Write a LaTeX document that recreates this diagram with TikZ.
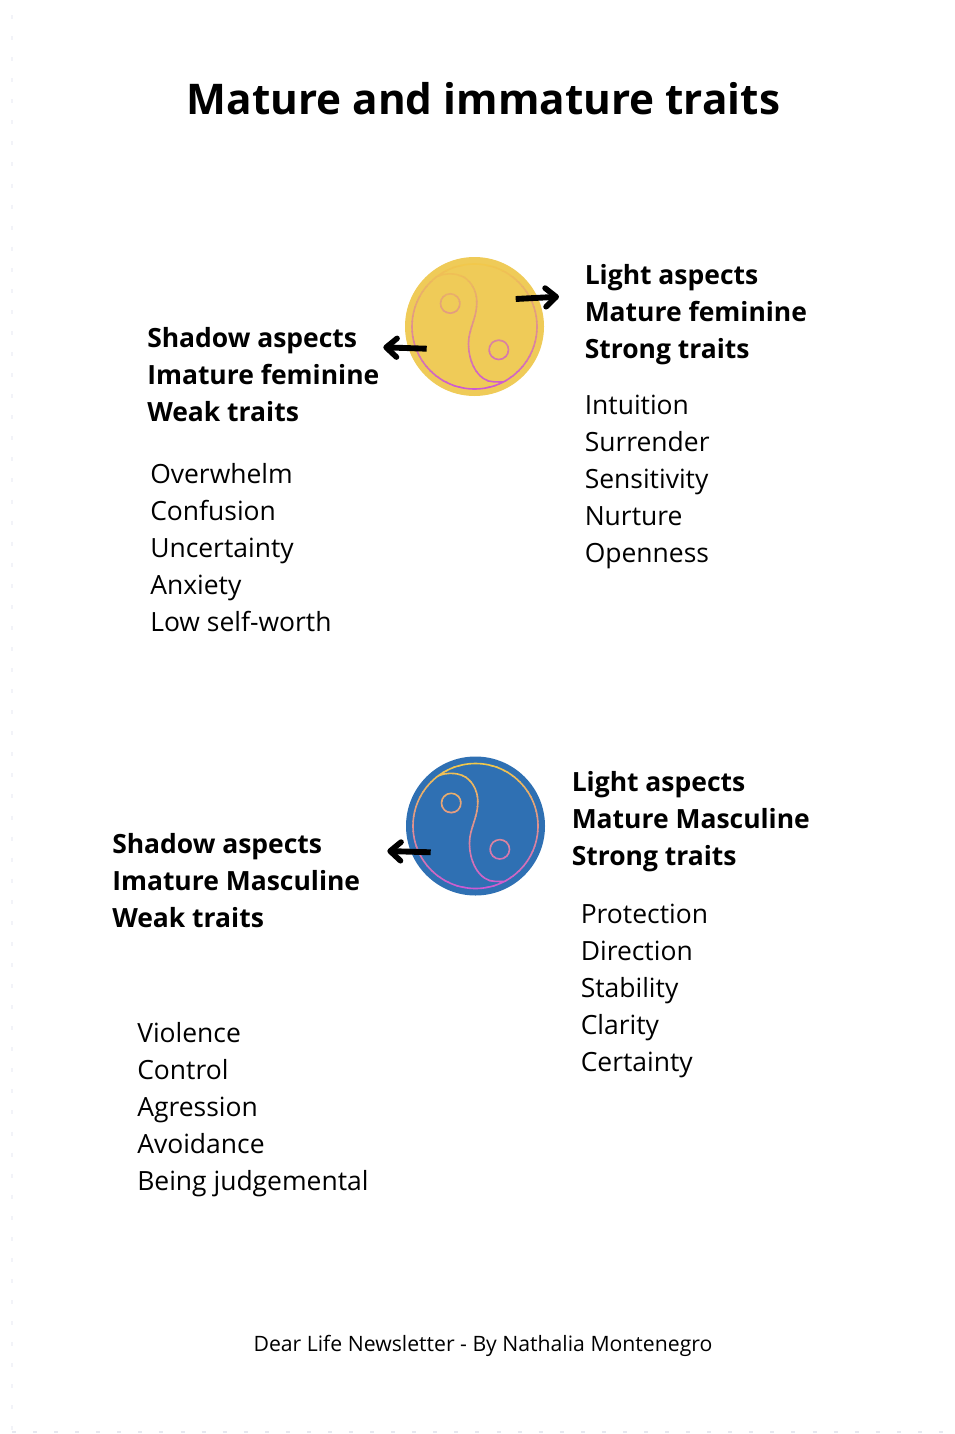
\documentclass[tikz,border=0pt]{standalone}
\usepackage{fontspec}
\setmainfont{Open Sans}
\usetikzlibrary{arrows.meta}

\definecolor{sun}{HTML}{EFCB58}
\definecolor{ocean}{HTML}{2F70B3}
\definecolor{ringtop}{HTML}{F2C84B}
\definecolor{ringlow}{HTML}{CC5AD2}
\definecolor{pagemark}{HTML}{E6E8F0}

\tikzset{
  heading/.style={anchor=north west, inner sep=0pt, align=left, font=\fontsize{19.85}{27.75}\selectfont\bfseries},
  traits/.style={anchor=north west, inner sep=0pt, align=left, font=\fontsize{19.85}{27.75}\selectfont},
  disc/.style={circle, minimum size=104.25pt, inner sep=0pt},
  pointer/.style={line width=4.4pt, -{Straight Barb[length=8pt,width=14pt,line width=4.2pt,round]}},
  margin/.style={draw=pagemark, line width=1.6pt, dash pattern=on 3pt off 12.8pt}
}

% yin yang lines, cut in strips to get the colour change
\newcommand{\yinyang}{
  \foreach \i in {0,...,25}{
    \pgfmathsetmacro{\mixval}{\i*4}
    \begin{scope}
      \clip (-70,-65+\i*5) rectangle (70,-59.7+\i*5);
      \draw[color=ringlow!\mixval!ringtop, line width=1.2pt]
        (0,0) circle (62.5)
        (-36,-50.7) .. controls (-30,-53) and (-22,-53) .. (-18,-52)
          .. controls (-5,-50) and (3,-36) .. (2.3,-23)
          .. controls (2,-8) and (-6,3) .. (-6,17)
          .. controls (-6,38) and (5,55) .. (19,55.3)
          .. controls (22,55.5) and (26,55.5) .. (29,55.3)
        (-24.3,-23) circle (9.7)
        (24.3,23.3) circle (9.7);
    \end{scope}
  }
}

\begin{document}
\begin{tikzpicture}[x=0.75pt, y=-0.75pt]
  \useasboundingbox (0,0) rectangle (954,1434);

  % Page margin
  \coordinate (margintop) at (12,15);
  \coordinate (marginlow) at (12,1432);
  \coordinate (marginend) at (954,1432);
  \draw[margin, draw=pagemark!50!white] (margintop) -- (marginlow);
  \draw[margin] (marginlow) -- (marginend);

  % Title
  \node[font=\fontsize{31.7}{40}\selectfont\bfseries] (title) at (483.5,98.5) {Mature and immature traits};

  % Discs
  \node[disc, fill=sun] (feminine) at (474.5,326.5) {};
  \node[disc, fill=ocean] (masculine) at (475.5,826) {};
  \begin{scope}[shift={(feminine.center)}]
    \yinyang
  \end{scope}
  \begin{scope}[shift={(masculine.center)}]
    \yinyang
  \end{scope}

  % Arrows
  \coordinate (fl0) at (515.7,299);
  \coordinate (fl1) at (559,296.7);
  \coordinate (fs0) at (426.7,348.7);
  \coordinate (fs1) at (383.3,347.3);
  \coordinate (ms0) at (430.7,852.3);
  \coordinate (ms1) at (387.3,851);
  \draw[pointer] (fl0) -- (fl1);
  \draw[pointer] (fs0) -- (fs1);
  \draw[pointer] (ms0) -- (ms1);

  % Feminine
  \node[heading] (fl) at (584.5,264) {Light aspects\\Mature feminine\\Strong traits};
  \node[traits] (fltraits) at (584.5,394.5) {Intuition\\Surrender\\Sensitivity\\Nurture\\Openness};
  \node[heading] (fs) at (147,327) {Shadow aspects\\Imature feminine\\Weak traits};
  \node[traits] (fstraits) at (150,463) {Overwhelm\\Confusion\\Uncertainty\\Anxiety\\Low self-worth};

  % Masculine
  \node[heading] (ml) at (571.5,771) {Light aspects\\Mature Masculine\\Strong traits};
  \node[traits] (mltraits) at (580.5,903.5) {Protection\\Direction\\Stability\\Clarity\\Certainty};
  \node[heading] (ms) at (112,833) {Shadow aspects\\Imature Masculine\\Weak traits};
  \node[traits] (mstraits) at (137,1022.5) {Violence\\Control\\Agression\\Avoidance\\Being judgemental};

  % Footer
  \node[font=\fontsize{15.9}{20}\selectfont] (footer) at (483,1346) {Dear Life Newsletter - By Nathalia Montenegro};
\end{tikzpicture}
\end{document}
